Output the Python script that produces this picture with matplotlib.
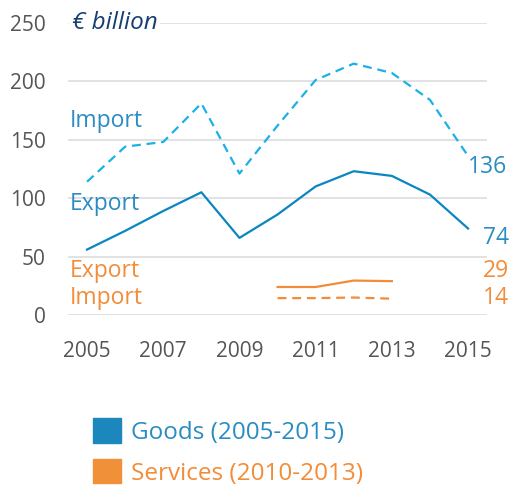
import matplotlib.pyplot as plt
from matplotlib.patches import Patch

plt.rcParams['font.family'] = ['Open Sans', 'DejaVu Sans']

# Data (€ billion)
years = [2005, 2006, 2007, 2008, 2009, 2010, 2011, 2012, 2013, 2014, 2015]
goods_export = [56, 72, 89, 105, 66, 86, 110, 123, 119, 103, 74]
goods_import = [114, 144, 148, 181, 121, 162, 201, 215, 207, 184, 136]
serv_years = [2010, 2011, 2012, 2013]
serv_export = [24, 24, 29.5, 29]
serv_import = [14.5, 14.5, 15, 14]

c_dash = '#1cb0e8'
c_solid = '#0a86c0'
c_text = '#2a8cc2'
c_orange = '#f28c38'
c_grey = '#555555'

fig = plt.figure(figsize=(5.09, 4.90), dpi=100)
ax = fig.add_axes([0.1336, 0.357, 0.8234, 0.5967])

ax.plot(years, goods_import, color=c_dash, lw=1.6, dashes=(4, 2.6))
ax.plot(years, goods_export, color=c_solid, lw=1.6)
ax.plot(serv_years, serv_export, color=c_orange, lw=1.6)
ax.plot(serv_years, serv_import, color=c_orange, lw=1.6, dashes=(4, 2.6))

ax.set_xlim(2004.5, 2015.5)
ax.set_ylim(0, 250)
ax.set_xticks([2005, 2007, 2009, 2011, 2013, 2015])
ax.set_yticks([0, 50, 100, 150, 200, 250])
ax.grid(axis='y', color='#dddddd', lw=1.2)
ax.set_axisbelow(True)
for s in ax.spines.values():
    s.set_visible(False)
ax.tick_params(length=0, labelsize=15, colors=c_grey)
ax.tick_params(axis='y', pad=16)
ax.tick_params(axis='x', pad=19)
for lbl in ax.get_xticklabels() + ax.get_yticklabels():
    lbl.set_clip_on(False)

ax.text(2004.6, 250, '€ billion', fontsize=17.5, style='italic', color='#163e73',
        va='center', ha='left', clip_on=False,
        bbox=dict(facecolor='white', edgecolor='none', pad=2))

# series labels
fs = 16.5
ax.text(2004.55, 166, 'Import', fontsize=fs, color=c_text, va='center')
ax.text(2004.55, 95, 'Export', fontsize=fs, color=c_text, va='center')
ax.text(2004.55, 37.5, 'Export', fontsize=fs, color=c_orange, va='center')
ax.text(2004.55, 14.5, 'Import', fontsize=fs, color=c_orange, va='center')

ax.text(2015.0, 127, '136', fontsize=fs, color=c_text, va='center', clip_on=False)
ax.text(2015.39, 66, '74', fontsize=fs, color=c_text, va='center', clip_on=False)
ax.text(2015.39, 37.5, '29', fontsize=fs, color=c_orange, va='center', clip_on=False)
ax.text(2015.39, 14.5, '14', fontsize=fs, color=c_orange, va='center', clip_on=False)

handles = [Patch(color='#1b87bd', label='Goods (2005-2015)'),
           Patch(color='#f0913a', label='Services (2010-2013)')]
fig.legend(handles=handles, loc='upper left', bbox_to_anchor=(0.183, 0.146),
           frameon=False, fontsize=17.5, handlelength=1.15, handleheight=1.15,
           handletextpad=0.4, labelspacing=0.6, borderpad=0, borderaxespad=0,
           labelcolor=[c_text, c_orange])

fig.savefig('out.png', dpi=100)
